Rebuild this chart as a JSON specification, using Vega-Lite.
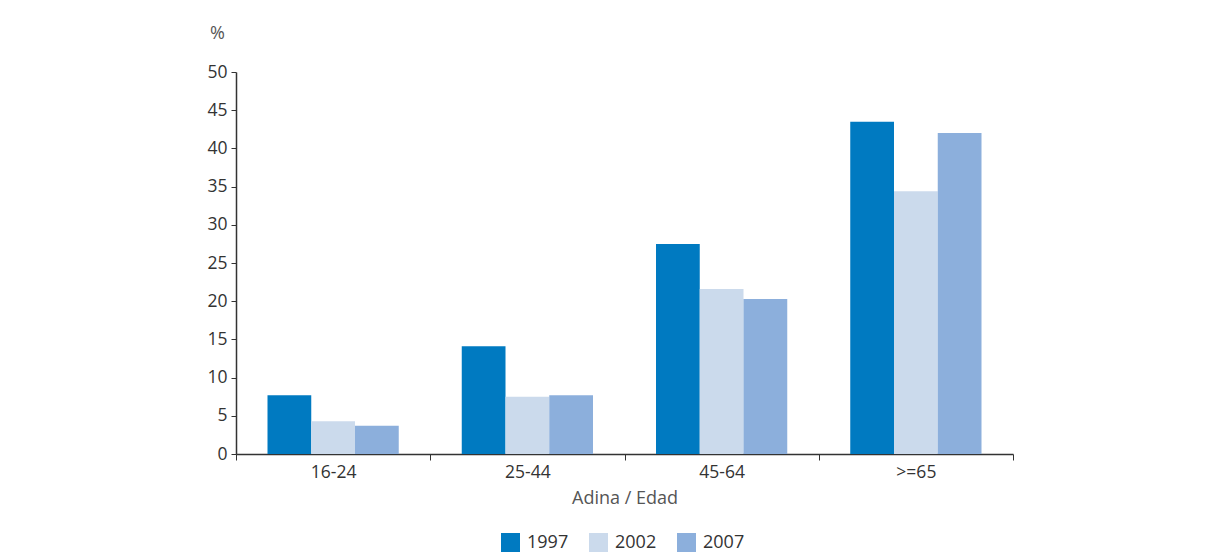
{
  "$schema": "https://vega.github.io/schema/vega-lite/v6.json",
  "width": 777,
  "height": 382,
  "autosize": "none",
  "padding": {"left": 236, "top": 72, "right": 192, "bottom": 105},
  "background": "white",
  "data": {
    "values": [
      {"edad": "16-24", "year": "1997", "pct": 7.7},
      {"edad": "16-24", "year": "2002", "pct": 4.3},
      {"edad": "16-24", "year": "2007", "pct": 3.7},
      {"edad": "25-44", "year": "1997", "pct": 14.1},
      {"edad": "25-44", "year": "2002", "pct": 7.5},
      {"edad": "25-44", "year": "2007", "pct": 7.7},
      {"edad": "45-64", "year": "1997", "pct": 27.5},
      {"edad": "45-64", "year": "2002", "pct": 21.6},
      {"edad": "45-64", "year": "2007", "pct": 20.3},
      {"edad": ">=65", "year": "1997", "pct": 43.5},
      {"edad": ">=65", "year": "2002", "pct": 34.4},
      {"edad": ">=65", "year": "2007", "pct": 42.0}
    ]
  },
  "mark": {"type": "bar"},
  "encoding": {
    "x": {
      "field": "edad",
      "type": "nominal",
      "sort": ["16-24", "25-44", "45-64", ">=65"],
      "scale": {"paddingInner": 0, "paddingOuter": 0},
      "axis": {
        "title": "Adina / Edad",
        "labelAngle": 0,
        "tickBand": "extent",
        "tickSize": 6,
        "labelPadding": 3,
        "titlePadding": 9
      }
    },
    "xOffset": {
      "field": "year",
      "type": "nominal",
      "scale": {"paddingInner": 0, "paddingOuter": 0.72}
    },
    "y": {
      "field": "pct",
      "type": "quantitative",
      "scale": {"domain": [0, 50]},
      "axis": {
        "title": "%",
        "values": [0, 5, 10, 15, 20, 25, 30, 35, 40, 45, 50],
        "grid": false,
        "tickSize": 5,
        "labelPadding": 4,
        "titleAngle": 0,
        "titleAlign": "center",
        "titleBaseline": "middle",
        "titleX": -19,
        "titleY": -39
      }
    },
    "color": {
      "field": "year",
      "type": "nominal",
      "scale": {"domain": ["1997", "2002", "2007"], "range": ["#007ac1", "#cbdaec", "#8cafdc"]},
      "legend": {
        "title": null,
        "orient": "none",
        "legendX": 265,
        "legendY": 461,
        "direction": "horizontal",
        "symbolType": "square",
        "symbolSize": 361,
        "symbolStrokeWidth": 0,
        "symbolOpacity": 1,
        "labelOffset": 7,
        "columnPadding": 20
      }
    }
  },
  "config": {
    "font": "Open Sans",
    "view": {"stroke": null},
    "axis": {
      "domainColor": "#333333",
      "domainWidth": 1.5,
      "tickColor": "#333333",
      "labelColor": "#333333",
      "labelFontSize": 17.5,
      "titleFontSize": 18,
      "titleFontWeight": "normal",
      "titleColor": "#555555",
      "labelFont": "Open Sans",
      "titleFont": "Open Sans"
    },
    "legend": {
      "labelFontSize": 18,
      "labelColor": "#333333",
      "labelFont": "Open Sans"
    }
  }
}
